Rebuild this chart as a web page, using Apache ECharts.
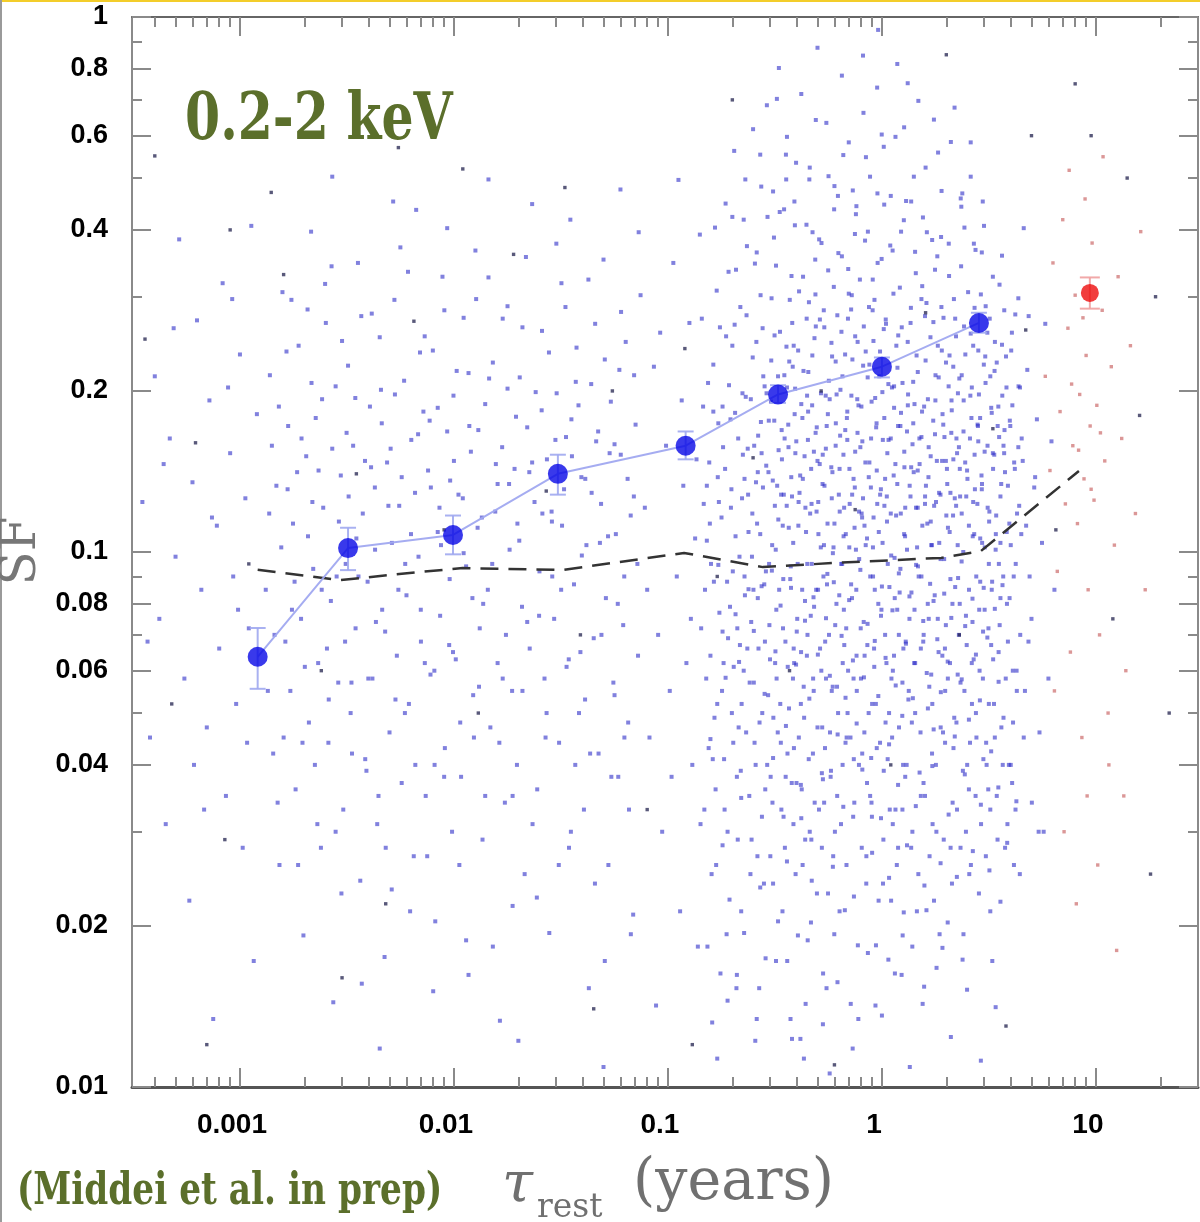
<!DOCTYPE html>
<html><head><meta charset="utf-8">
<script src="https://cdn.jsdelivr.net/npm/echarts@6.0.0/dist/echarts.min.js"></script>
<style>html,body{margin:0;padding:0;background:#fff}#c{width:1200px;height:1222px}</style>
</head><body><div id="c"></div>
<script>
// ---- axis ranges and ticks ----
const X_MIN = 0.000313, X_MAX = 30, Y_MIN = 0.01, Y_MAX = 1;
const xMajorTicks = [0.001, 0.01, 0.1, 1, 10];
const xMinorTicks = [0.0004,0.0005,0.0006,0.0007,0.0008,0.0009,0.002,0.003,0.004,0.005,0.006,0.007,0.008,0.009,0.02,0.03,0.04,0.05,0.06,0.07,0.08,0.09,0.2,0.3,0.4,0.5,0.6,0.7,0.8,0.9,2,3,4,5,6,7,8,9,20,30];
const yMajorTicks = [0.01,0.02,0.04,0.06,0.08,0.1,0.2,0.4,0.6,0.8,1];
const yMinorTicks = [0.03,0.05,0.07,0.09,0.3,0.5,0.7,0.9];

// ---- binned structure function ----
const binTau = [0.00121, 0.0032, 0.0099, 0.0306, 0.121, 0.327, 1.0, 2.84];
const binSF  = [0.0637, 0.1017, 0.1076, 0.140, 0.158, 0.197, 0.222, 0.268];
const binLo  = [0.0555, 0.0925, 0.099, 0.128, 0.149, 0.19, 0.212, 0.257];
const binHi  = [0.0721, 0.111, 0.117, 0.152, 0.168, 0.205, 0.231, 0.28];
const redTau = [9.37], redSF = [0.305], redLo = [0.285], redHi = [0.326];

// ---- dashed reference curve ----
const dashTau = [0.00121, 0.00293, 0.00694, 0.011, 0.0323, 0.119, 0.278, 0.597, 1.89, 2.9, 8.33];
const dashSF  = [0.0926, 0.0886, 0.0918, 0.0933, 0.0926, 0.0996, 0.0937, 0.0954, 0.0975, 0.1004, 0.1417];

// ---- individual pair points (tau, SF) ----
const blueDots = [
[0.00035,0.124],[0.00038,0.045],[0.0004,0.213],[0.00042,0.075],[0.00045,0.031],[0.00047,0.163],[0.0005,0.098],[0.00052,0.384],[0.00055,0.058],[0.00058,0.0223],[0.0006,0.135],[0.00063,0.271],[0.00066,0.085],[0.0007,0.047],[0.00072,0.192],[0.00075,0.0134],[0.00078,0.112],[0.0008,0.066],[0.00083,0.318],[0.00086,0.035],[0.0009,0.153],[0.00093,0.09],[0.00096,0.052],[0.001,0.234],[0.00103,0.028],[0.00106,0.126],[0.0011,0.072],[0.00113,0.407],[0.00116,0.0172],[0.0012,0.181],[0.00037,0.068],[0.00049,0.262],[0.00061,0.04],[0.00074,0.116],[0.00088,0.203],[0.00098,0.078],[0.00108,0.044],[0.00044,0.146],[0.00068,0.033],[0.00092,0.297],
[0.00132,0.085],[0.00138,0.214],[0.00143,0.042],[0.00148,0.133],[0.00153,0.026],[0.00158,0.306],[0.00163,0.068],[0.00168,0.172],
[0.00172,0.055],[0.00177,0.113],[0.00182,0.036],[0.00188,0.243],[0.00193,0.075],[0.00198,0.0192],[0.00204,0.151],[0.0021,0.048],[0.00215,0.397],[0.0022,0.093],
[0.00226,0.178],[0.00232,0.062],[0.00239,0.028],[0.00245,0.121],[0.00252,0.268],[0.00259,0.044],[0.00266,0.081],[0.00273,0.0144],[0.0028,0.204],[0.00288,0.057],[0.00296,0.139],
[0.00304,0.033],[0.00312,0.095],[0.0032,0.223],[0.00329,0.05],[0.00338,0.158],[0.00347,0.072],[0.00356,0.347],[0.00365,0.0243],[0.00375,0.118],[0.00385,0.041],[0.00395,0.088],
[0.00405,0.187],[0.00416,0.058],[0.00427,0.132],[0.00438,0.031],[0.0045,0.252],[0.00462,0.078],[0.00474,0.0175],[0.00487,0.147],[0.005,0.046],[0.00513,0.104],[0.00527,0.296],[0.00541,0.064],
[0.00555,0.122],[0.0057,0.037],[0.00585,0.209],[0.006,0.083],[0.00616,0.052],[0.00632,0.162],[0.00649,0.027],[0.00666,0.436],[0.00683,0.098],[0.00701,0.068],[0.0072,0.183],[0.00738,0.035],
[0.00757,0.142],[0.00777,0.059],[0.00797,0.238],[0.00818,0.0204],[0.0084,0.109],[0.00862,0.076],[0.00884,0.327],[0.00907,0.043],[0.0093,0.168],[0.00955,0.089],[0.0098,0.03],[0.00995,0.196],
[0.0102,0.063],[0.0105,0.128],[0.0108,0.038],[0.0111,0.274],[0.0114,0.094],[0.0117,0.0162],[0.012,0.154],[0.0123,0.054],[0.0126,0.366],[0.0129,0.111],[0.0132,0.072],
[0.0136,0.029],[0.014,0.189],[0.0144,0.085],[0.0148,0.047],[0.0152,0.226],[0.0156,0.119],[0.016,0.062],[0.0164,0.0133],[0.0168,0.157],[0.0173,0.034],[0.0178,0.288],
[0.0182,0.101],[0.0187,0.055],[0.0192,0.143],[0.0197,0.04],[0.0203,0.212],[0.0208,0.079],[0.0214,0.025],[0.022,0.171],[0.0226,0.066],[0.0232,0.447],[0.0238,0.124],
[0.0245,0.036],[0.0251,0.092],[0.0258,0.259],[0.0265,0.058],[0.0272,0.149],[0.0279,0.0194],[0.0287,0.114],[0.0294,0.075],[0.0302,0.198],[0.031,0.044],[0.0318,0.318],
[0.0327,0.131],[0.0336,0.061],[0.0345,0.028],[0.0354,0.177],[0.0364,0.087],[0.0374,0.241],[0.0384,0.05],[0.0394,0.138],[0.0405,0.033],[0.0416,0.103],[0.0427,0.0153],
[0.0438,0.206],[0.045,0.069],[0.0462,0.161],[0.0474,0.042],[0.0487,0.123],[0.05,0.352],[0.0513,0.082],[0.0527,0.026],[0.0541,0.191],[0.0556,0.057],[0.0571,0.108],
[0.0586,0.038],[0.0602,0.152],[0.0618,0.073],[0.0635,0.247],[0.0652,0.048],[0.067,0.117],[0.0688,0.021],[0.0706,0.173],[0.0725,0.064],[0.0745,0.302],
[0.00135,0.055],[0.00141,0.158],[0.0015,0.034],[0.00156,0.102],[0.00165,0.237],[0.00175,0.078],[0.00185,0.141],[0.00196,0.044],[0.00207,0.284],[0.00218,0.124],[0.0023,0.031],[0.00242,0.193],[0.00255,0.066],[0.00268,0.342],[0.00283,0.09],[0.00298,0.023],[0.00315,0.167],[0.00332,0.057],[0.0035,0.106],[0.00369,0.276],[0.0039,0.039],[0.0041,0.144],[0.00432,0.074],[0.00456,0.201],[0.0048,0.028],[0.00506,0.156],[0.00533,0.053],[0.00562,0.371],[0.00592,0.095],[0.00624,0.0213],[0.00658,0.129],[0.00694,0.236],[0.00731,0.062],[0.0077,0.176],[0.00812,0.04],[0.00856,0.121],[0.00902,0.283],[0.0095,0.067],[0.01,0.148],[0.0106,0.026],[0.0111,0.0995],[0.0117,0.216],[0.0124,0.045],[0.013,0.169],[0.0137,0.08],[0.0145,0.326],[0.0152,0.0183],[0.016,0.134],[0.0169,0.058],[0.0178,0.202],[0.0188,0.035],[0.0198,0.113],[0.0209,0.263],[0.022,0.074],[0.0232,0.147],[0.0244,0.0226],[0.0257,0.184],[0.0271,0.05],[0.0286,0.119],[0.0301,0.377],[0.0317,0.085],[0.0334,0.164],[0.0352,0.03],[0.0371,0.208],[0.039,0.065],[0.0411,0.137],[0.0433,0.042],[0.0457,0.267],[0.0481,0.104],[0.0507,0.0172],[0.0534,0.153],[0.0563,0.054],[0.0593,0.219],[0.0625,0.09],[0.0658,0.033],[0.0693,0.127],[0.073,0.396],[0.0145,0.497],[0.0052,0.452],[0.0027,0.503],[0.035,0.418],[0.06,0.476],[0.02,0.0122],[0.008,0.0151],[0.0045,0.0118],[0.05,0.0109],
[0.00137,0.118],[0.00145,0.07],[0.00152,0.187],[0.0016,0.045],[0.00167,0.131],[0.00174,0.296],[0.0018,0.088],[0.00187,0.026],[0.00194,0.163],[0.00201,0.061],[0.00208,0.107],[0.00216,0.207],[0.00224,0.04],[0.00233,0.142],[0.00241,0.085],[0.0025,0.317],[0.0026,0.053],[0.0027,0.156],[0.0028,0.03],[0.0029,0.114],[0.003,0.248],[0.0031,0.068],[0.00322,0.127],[0.00334,0.042],[0.00346,0.194],[0.00358,0.09],[0.00371,0.0156],[0.00384,0.148],[0.00398,0.058],[0.00413,0.279],[0.00428,0.101],[0.00444,0.035],[0.0046,0.174],[0.00477,0.071],[0.00494,0.122],[0.00512,0.0234],[0.0053,0.197],[0.0055,0.085],[0.0057,0.138],[0.0059,0.05],[0.0061,0.334],[0.0063,0.108],[0.0066,0.04],[0.0068,0.166],[0.007,0.078],[0.0073,0.253],[0.0075,0.027],[0.0078,0.132],[0.0081,0.06],[0.0084,0.186],[0.0087,0.103],[0.009,0.038],[0.0093,0.403],[0.0096,0.136],[0.0099,0.065],[0.0103,0.218],[0.0107,0.048],[0.011,0.126],[0.0114,0.0188],[0.0118,0.172],[0.0122,0.082],[0.0127,0.297],[0.0131,0.056],[0.0135,0.116],[0.014,0.035],[0.0146,0.211],[0.0151,0.095],[0.0157,0.146],[0.0163,0.044],[0.0169,0.273],[0.0175,0.07],[0.0181,0.134],[0.0188,0.0218],[0.0195,0.179],[0.0202,0.105],[0.0209,0.055],[0.0217,0.356],[0.0225,0.141],[0.0233,0.031],[0.0241,0.199],[0.025,0.076],[0.0259,0.118],[0.0268,0.045],[0.0278,0.236],[0.0288,0.09],[0.0298,0.162],[0.0309,0.026],[0.032,0.112],[0.0332,0.287],[0.0344,0.063],[0.0356,0.151],[0.0369,0.04],[0.0382,0.188],[0.0396,0.0985],[0.041,0.053],[0.0425,0.323],[0.044,0.129],[0.0456,0.024],[0.0472,0.168],[0.0489,0.07],[0.0507,0.229],[0.0525,0.107],[0.0544,0.038],[0.0563,0.159],[0.0583,0.08],[0.0604,0.281],[0.0626,0.045],[0.0648,0.137],[0.0671,0.0193],[0.0695,0.214],[0.072,0.095],
[0.078,0.121],[0.082,0.045],[0.086,0.222],[0.09,0.07],[0.094,0.03],[0.098,0.158],[0.102,0.055],[0.106,0.347],[0.11,0.09],[0.114,0.0213],[0.118,0.133],[0.122,0.062],[0.126,0.268],[0.13,0.04],[0.134,0.106],[0.138,0.0183],[0.08,0.085],[0.092,0.257],[0.104,0.038],[0.116,0.192],[0.128,0.075],[0.088,0.0142],[0.112,0.496],[0.136,0.149],
[0.142,0.031],[0.147,0.123],[0.151,0.058],[0.144,0.273],[0.153,0.0183],[0.149,0.085],[0.146,0.187],[0.155,0.043],[0.141,0.392],[0.152,0.105],
[0.158,0.064],[0.163,0.224],[0.167,0.036],[0.171,0.138],[0.161,0.0132],[0.169,0.308],[0.174,0.077],[0.165,0.049],[0.172,0.174],[0.159,0.095],[0.168,0.026],
[0.178,0.116],[0.183,0.041],[0.187,0.253],[0.191,0.069],[0.181,0.157],[0.194,0.0224],[0.186,0.448],[0.189,0.088],[0.179,0.055],[0.193,0.205],[0.184,0.033],
[0.198,0.131],[0.203,0.061],[0.208,0.337],[0.212,0.029],[0.201,0.092],[0.206,0.182],[0.214,0.047],[0.209,0.0153],[0.2,0.243],[0.211,0.072],[0.204,0.562],
[0.219,0.039],[0.224,0.152],[0.229,0.083],[0.233,0.277],[0.221,0.052],[0.238,0.109],[0.227,0.0194],[0.235,0.066],[0.231,0.195],[0.226,0.418],[0.24,0.035],[0.222,0.126],
[0.245,0.074],[0.249,0.231],[0.254,0.044],[0.258,0.135],[0.262,0.027],[0.247,0.098],[0.26,0.363],[0.252,0.057],[0.264,0.165],[0.256,0.0122],[0.25,0.617],
[0.27,0.108],[0.275,0.032],[0.279,0.213],[0.284,0.068],[0.288,0.145],[0.273,0.482],[0.291,0.04],[0.282,0.087],[0.277,0.262],[0.294,0.054],[0.286,0.0174],[0.272,0.175],
[0.3,0.063],[0.305,0.298],[0.31,0.024],[0.316,0.122],[0.321,0.078],[0.303,0.191],[0.326,0.046],[0.313,0.387],[0.319,0.101],[0.308,0.034],[0.329,0.155],[0.323,0.703],
[0.335,0.052],[0.34,0.169],[0.346,0.089],[0.352,0.028],[0.358,0.242],[0.338,0.128],[0.363,0.061],[0.349,0.437],[0.355,0.038],[0.367,0.111],[0.343,0.0213],[0.36,0.203],
[0.375,0.094],[0.381,0.268],[0.388,0.043],[0.394,0.153],[0.4,0.071],[0.378,0.328],[0.405,0.0192],[0.391,0.181],[0.384,0.058],[0.408,0.124],[0.397,0.534],[0.386,0.031],
[0.415,0.139],[0.422,0.036],[0.43,0.218],[0.437,0.081],[0.444,0.409],[0.419,0.065],[0.451,0.162],[0.426,0.026],[0.448,0.095],[0.456,0.293],[0.433,0.049],[0.44,0.0143],
[0.465,0.076],[0.472,0.188],[0.48,0.055],[0.488,0.352],[0.495,0.119],[0.468,0.029],[0.503,0.085],[0.484,0.251],[0.476,0.042],[0.5,0.148],[0.491,0.642],[0.508,0.033],
[0.518,0.102],[0.526,0.047],[0.535,0.283],[0.543,0.068],[0.552,0.172],[0.522,0.378],[0.56,0.023],[0.539,0.133],[0.548,0.058],[0.565,0.209],[0.531,0.0163],[0.556,0.091],
[0.578,0.039],[0.587,0.141],[0.596,0.313],[0.605,0.073],[0.614,0.197],[0.583,0.055],[0.623,0.463],[0.6,0.113],[0.592,0.027],[0.632,0.083],[0.618,0.035],[0.638,0.165],
[0.647,0.258],[0.656,0.062],[0.666,0.121],[0.676,0.044],[0.686,0.178],[0.652,0.095],[0.696,0.338],[0.671,0.0214],[0.681,0.072],[0.705,0.143],[0.66,0.552],[0.691,0.05],
[0.718,0.087],[0.728,0.229],[0.739,0.041],[0.75,0.154],[0.761,0.064],[0.723,0.302],[0.772,0.0184],[0.745,0.111],[0.756,0.428],[0.783,0.097],[0.734,0.032],[0.767,0.193],
[0.798,0.058],[0.81,0.161],[0.822,0.074],[0.834,0.382],[0.846,0.027],[0.804,0.118],[0.858,0.212],[0.828,0.046],[0.84,0.103],[0.87,0.287],[0.816,0.847],[0.852,0.037],
[0.888,0.132],[0.9,0.052],[0.913,0.248],[0.926,0.085],[0.94,0.171],[0.894,0.034],[0.953,0.468],[0.919,0.066],[0.933,0.0142],[0.967,0.109],[0.906,0.323],[0.946,0.043],[0.96,0.946],
[0.99,0.076],[1.005,0.199],[1.02,0.039],[1.035,0.137],[1.05,0.062],[0.997,0.353],[1.065,0.095],[1.012,0.024],[1.042,0.272],[1.08,0.05],[1.027,0.122],[1.072,0.0173],
[1.1,0.163],[1.116,0.045],[1.132,0.304],[1.148,0.082],[1.165,0.117],[1.108,0.058],[1.182,0.221],[1.124,0.031],[1.157,0.597],[1.2,0.07],[1.14,0.186],[1.19,0.028],
[1.22,0.093],[1.238,0.263],[1.256,0.04],[1.274,0.144],[1.292,0.068],[1.229,0.397],[1.31,0.168],[1.265,0.0212],[1.283,0.107],[1.33,0.053],[1.247,0.033],[1.32,0.752],
[1.36,0.127],[1.38,0.048],[1.4,0.208],[1.42,0.078],[1.44,0.332],[1.37,0.028],[1.46,0.102],[1.39,0.159],[1.43,0.062],[1.48,0.025],[1.41,0.503],[1.47,0.142],
[1.52,0.066],[1.54,0.183],[1.565,0.037],[1.59,0.123],[1.615,0.292],[1.53,0.09],[1.64,0.051],[1.575,0.0154],[1.6,0.228],[1.655,0.075],[1.555,0.422],[1.63,0.113],
[1.69,0.151],[1.715,0.042],[1.74,0.269],[1.765,0.083],[1.79,0.124],[1.7,0.059],[1.815,0.357],[1.752,0.0223],[1.778,0.192],[1.84,0.065],[1.725,0.031],[1.83,0.558],
[1.88,0.097],[1.905,0.238],[1.93,0.046],[1.96,0.164],[1.99,0.073],[1.89,0.388],[2.02,0.134],[1.945,0.029],[1.975,0.055],[2.05,0.204],[1.918,0.0182],[2.035,0.111],
[2.08,0.062],[2.11,0.167],[2.14,0.034],[2.17,0.297],[2.2,0.086],[2.09,0.129],[2.23,0.048],[2.155,0.222],[2.185,0.677],[2.26,0.103],[2.125,0.024],[2.245,0.153],
[2.3,0.211],[2.33,0.057],[2.36,0.118],[2.39,0.039],[2.42,0.264],[2.31,0.08],[2.45,0.147],[2.375,0.468],[2.405,0.0193],[2.49,0.067],[2.345,0.342],[2.47,0.03],
[2.55,0.112],[2.58,0.044],[2.62,0.178],[2.65,0.074],[2.69,0.377],[2.56,0.025],[2.72,0.131],[2.635,0.052],[2.67,0.243],[2.76,0.09],[2.6,0.583],[2.74,0.035],
[2.82,0.161],[2.86,0.06],[2.9,0.303],[2.94,0.104],[2.98,0.041],[2.84,0.197],[3.02,0.078],[2.92,0.139],[2.96,0.452],[3.06,0.027],[2.88,0.088],[3.04,0.232],
[3.12,0.121],[3.16,0.052],[3.21,0.213],[3.26,0.085],[3.3,0.327],[3.14,0.036],[3.35,0.152],[3.24,0.067],[3.28,0.0172],[3.4,0.101],[3.19,0.273],[3.37,0.045],
[3.5,0.187],[3.55,0.073],[3.61,0.134],[3.67,0.04],[3.73,0.283],[3.52,0.095],[3.79,0.058],[3.64,0.358],[3.7,0.158],[3.86,0.031],[3.58,0.0222],[3.83,0.109],
[3.95,0.082],[4.02,0.238],[4.1,0.048],[4.18,0.143],[4.26,0.06],[3.98,0.172],[4.34,0.298],[4.14,0.026],[4.22,0.095],[4.42,0.203],[4.06,0.037],[4.38,0.122],
[4.55,0.148],[4.66,0.055],[4.78,0.219],[4.9,0.09],[5.02,0.034],[4.6,0.403],[5.15,0.132],[4.84,0.068],[5.3,0.177],[5.45,0.046],
[5.6,0.104],[5.8,0.267],[6.0,0.058],[6.2,0.161],[5.7,0.03],[6.4,0.085],
[0.156,0.147],[0.162,0.041],[0.175,0.263],[0.18,0.071],[0.188,0.0193],[0.196,0.177],[0.202,0.044],[0.216,0.098],[0.218,0.287],[0.226,0.06],[0.236,0.156],[0.243,0.025],[0.248,0.118],[0.255,0.346],[0.263,0.082],[0.268,0.048],[0.274,0.153],[0.281,0.024],[0.289,0.198],[0.297,0.095],[0.302,0.038],[0.309,0.136],[0.315,0.254],[0.322,0.058],[0.328,0.115],[0.333,0.432],[0.339,0.033],[0.345,0.072],[0.351,0.163],[0.357,0.497],[0.362,0.042],[0.369,0.227],[0.374,0.0134],[0.38,0.127],[0.387,0.066],[0.393,0.202],[0.399,0.037],[0.404,0.095],[0.41,0.307],[0.418,0.052],[0.425,0.178],[0.432,0.0113],[0.439,0.121],[0.446,0.064],[0.453,0.217],[0.46,0.03],[0.467,0.143],[0.474,0.396],[0.482,0.079],[0.49,0.167],[0.497,0.023],[0.505,0.108],[0.513,0.272],[0.521,0.06],[0.529,0.152],[0.537,0.034],[0.546,0.196],[0.554,0.087],[0.563,0.504],[0.572,0.046],[0.581,0.246],[0.59,0.0995],[0.599,0.0193],[0.608,0.158],[0.617,0.056],[0.626,0.362],[0.635,0.119],[0.644,0.031],[0.654,0.213],[0.664,0.078],[0.674,0.169],[0.684,0.045],[0.694,0.273],[0.704,0.102],[0.715,0.0143],[0.726,0.128],[0.737,0.058],[0.748,0.393],[0.759,0.085],[0.77,0.247],[0.781,0.04],[0.793,0.157],[0.805,0.028],[0.817,0.223],[0.829,0.112],[0.842,0.547],[0.855,0.067],[0.868,0.138],[0.881,0.035],[0.895,0.191],[0.909,0.09],[0.923,0.296],[0.937,0.052],[0.951,0.123],[0.965,0.0223],[0.98,0.237],[0.995,0.078],[1.01,0.162],[1.025,0.446],[1.04,0.048],[1.056,0.114],[1.072,0.206],[1.088,0.033],[1.105,0.0985],[1.122,0.366],[1.139,0.064],[1.156,0.146],[1.174,0.026],[1.192,0.254],[1.21,0.084],[1.228,0.182],[1.247,0.057],[1.266,0.417],[1.285,0.121],[1.305,0.04],[1.325,0.197],[1.345,0.075],[1.366,0.286],[1.387,0.0183],[1.408,0.141],[1.43,0.05],[1.452,0.233],[1.474,0.094],[1.497,0.163],[1.52,0.035],[1.543,0.314],[1.567,0.07],[1.591,0.127],[1.615,0.0214],[1.64,0.193],[1.665,0.056],[1.691,0.114],[1.717,0.383],[1.743,0.081],[1.77,0.166],[1.797,0.03],[1.825,0.243],[1.853,0.104],[1.882,0.047],[1.911,0.148],[1.94,0.274],[1.97,0.066],[2.0,0.117],[2.03,0.0203],[2.06,0.328],[2.09,0.089],[2.12,0.184],[2.16,0.043],[2.19,0.126],[2.22,0.253],[2.26,0.059],[2.29,0.157],[2.33,0.028],[2.36,0.214],[2.4,0.1],[2.43,0.404],[2.47,0.076],[2.51,0.137],[2.55,0.036],[2.59,0.196],[2.63,0.062],[2.67,0.124],[2.71,0.286],[2.75,0.05],[2.8,0.173],[2.84,0.023],[2.88,0.106],[2.93,0.363],[2.97,0.071],[3.02,0.154],[3.07,0.044],[3.11,0.257],[3.16,0.095],[3.21,0.033],[3.26,0.182],[3.31,0.063],[3.36,0.218],[3.42,0.117],[3.47,0.029],[3.53,0.164],[3.58,0.082],[3.64,0.244],[3.7,0.049],[3.76,0.141],[3.82,0.203],[3.88,0.068],[3.94,0.113],[4.0,0.04],[4.07,0.188],[4.13,0.09],[4.2,0.278],[4.27,0.055],[4.34,0.157],[4.41,0.025],[4.48,0.108],
[0.143,0.072],[0.148,0.033],[0.154,0.207],[0.157,0.113],[0.16,0.025],[0.164,0.088],[0.166,0.404],[0.17,0.052],[0.173,0.124],[0.176,0.0163],[0.18,0.187],[0.182,0.062],[0.185,0.143],[0.19,0.03],[0.192,0.334],[0.195,0.079],[0.199,0.05],[0.205,0.266],[0.207,0.107],[0.21,0.038],[0.213,0.163],[0.217,0.067],[0.22,0.0213],[0.223,0.198],[0.228,0.09],[0.232,0.046],[0.234,0.373],[0.237,0.128],[0.241,0.057],[0.244,0.193],[0.246,0.029],[0.251,0.085],[0.253,0.158],[0.257,0.04],[0.259,0.247],[0.261,0.113],[0.265,0.066],[0.267,0.0153],[0.271,0.302],[0.276,0.05],[0.278,0.132],[0.283,0.204],[0.285,0.036],[0.287,0.092],[0.292,0.423],[0.295,0.141],[0.298,0.073],[0.301,0.027],[0.304,0.228],[0.307,0.103],[0.311,0.049],[0.314,0.176],[0.317,0.062],[0.32,0.343],[0.324,0.133],[0.327,0.0204],[0.331,0.085],[0.334,0.258],[0.337,0.044],[0.341,0.149],[0.344,0.112],[0.347,0.032],[0.35,0.214],[0.354,0.068],[0.356,0.553],[0.359,0.122],[0.361,0.0172],[0.365,0.173],[0.368,0.051],[0.371,0.296],[0.373,0.089],[0.377,0.138],[0.379,0.037],[0.383,0.222],[0.385,0.104],[0.389,0.062],[0.392,0.408],[0.395,0.025],[0.398,0.161],[0.402,0.075],[0.406,0.238],[0.409,0.045],[0.412,0.129],[0.416,0.0123],[0.42,0.189],[0.424,0.085],[0.428,0.327],[0.431,0.056],[0.435,0.151],[0.438,0.029],[0.442,0.109],[0.445,0.273],[0.449,0.07],[0.452,0.183],[0.455,0.041],[0.458,0.497],[0.462,0.118],[0.466,0.0203],[0.47,0.095],[0.473,0.233],[0.477,0.058],[0.481,0.154],[0.485,0.034],[0.489,0.303],[0.493,0.085],[0.496,0.171],[0.5,0.047],[0.504,0.124],[0.509,0.384],[0.514,0.066],[0.519,0.198],[0.524,0.028],[0.528,0.134],[0.533,0.09],[0.538,0.263],[0.542,0.043],[0.547,0.156],[0.551,0.0153],[0.557,0.113],[0.561,0.336],[0.566,0.07],[0.57,0.193],[0.576,0.038],[0.58,0.144],[0.585,0.232],[0.589,0.056],[0.594,0.102],[0.598,0.437],[0.603,0.03],[0.609,0.174],[0.613,0.08],[0.619,0.277],[0.624,0.05],[0.629,0.128],[0.634,0.0213],[0.64,0.201],[0.645,0.095],[0.65,0.357],[0.655,0.04],[0.661,0.152],[0.667,0.067],[0.673,0.234],[0.678,0.108],[0.683,0.026],[0.689,0.183],[0.695,0.06],[0.7,0.304],[0.707,0.123],[0.713,0.045],[0.72,0.196],[0.725,0.082],[0.731,0.474],[0.737,0.137],[0.743,0.034],[0.75,0.253],[0.756,0.101],[0.763,0.055],[0.769,0.167],[0.776,0.0134],[0.782,0.119],[0.789,0.323],[0.796,0.072],[0.802,0.187],[0.809,0.042],[0.816,0.126],[0.823,0.264],[0.83,0.064],[0.837,0.147],[0.845,0.024],[0.852,0.106],[0.86,0.397],[0.867,0.05],[0.874,0.224],[0.882,0.09],[0.89,0.163],[0.898,0.032],[0.905,0.283],[0.914,0.116],[0.921,0.061],[0.93,0.194],[0.938,0.0184],[0.946,0.142],[0.955,0.347],[0.962,0.08],[0.972,0.213],[0.98,0.044],[0.989,0.131],[0.998,0.603],[1.007,0.104],[1.016,0.029],[1.026,0.178],[1.035,0.07],[1.045,0.267],[1.054,0.127],[1.064,0.041],[1.074,0.162],[1.084,0.086],[1.094,0.374],[1.104,0.0223],[1.114,0.203],[1.125,0.06],[1.135,0.139],[1.146,0.0975],[1.157,0.033],[1.168,0.243],[1.179,0.078],[1.19,0.172],[1.202,0.047],[1.213,0.312],[1.225,0.118],[1.236,0.0162],[1.248,0.207],[1.26,0.066],[1.272,0.154],[1.285,0.038],[1.297,0.453],[1.31,0.101],[1.322,0.188],[1.335,0.055],[1.348,0.133],[1.361,0.268],[1.374,0.084],[1.388,0.03],[1.401,0.174],[1.415,0.062],[1.429,0.364],[1.443,0.121],[1.457,0.0213],[1.471,0.217],[1.485,0.09],[1.5,0.146],[1.515,0.046],[1.53,0.297],[1.545,0.112],[1.56,0.068],[1.575,0.187],[1.59,0.035],[1.606,0.133],[1.622,0.396],[1.638,0.08],[1.654,0.157],[1.67,0.027],[1.686,0.252],[1.703,0.103],[1.72,0.052],[1.737,0.176],[1.754,0.122],[1.771,0.337],[1.788,0.04],[1.806,0.148],[1.824,0.075],[1.842,0.212],[1.86,0.0193],[1.878,0.128],[1.897,0.287],[1.916,0.064],[1.935,0.173],[1.954,0.097],[1.973,0.044],[1.993,0.226],[2.013,0.143],[2.033,0.058],[2.053,0.377],[2.073,0.109],[2.094,0.028],[2.115,0.192],[2.136,0.08],[2.157,0.149],[2.178,0.049],[2.2,0.273],[2.222,0.122],[2.244,0.033],[2.266,0.198],[2.289,0.07],[2.312,0.143],[2.335,0.458],[2.358,0.096],[2.382,0.0173],[2.406,0.168],[2.43,0.055],[2.454,0.234],[2.478,0.127],[2.503,0.04],[2.528,0.306],[2.553,0.085],[2.579,0.163],[2.605,0.026],[2.631,0.203],[2.657,0.107],[2.684,0.063],[2.711,0.152],[2.738,0.367],[2.765,0.045],[2.793,0.123],[2.821,0.238],[2.849,0.078],[2.877,0.178],[2.906,0.031],[2.935,0.134],[2.964,0.058],[2.994,0.224],[3.024,0.102],[3.054,0.288],[3.085,0.04],[3.116,0.158],[3.147,0.072],[3.178,0.119],[3.21,0.0213],[3.242,0.186],[3.274,0.088],[3.307,0.143],[3.34,0.052],[3.373,0.247],[3.407,0.108],[3.441,0.035],[3.475,0.172],[3.51,0.065],[3.545,0.316],[3.58,0.127],[3.616,0.047],[3.652,0.196],[3.689,0.09],[3.726,0.153],[3.763,0.028],[3.8,0.232],[3.84,0.08],[3.88,0.133],[3.92,0.04],[3.96,0.176],[4.0,0.103],[4.05,0.257],[4.09,0.06],[4.15,0.147],[4.21,0.033],[4.28,0.118],[4.35,0.204],[4.43,0.07],[4.5,0.163],[4.6,0.045],[4.72,0.112],[4.85,0.276],[5.0,0.075],[5.2,0.138],[5.4,0.03],
[0.252,0.0712],[0.263,0.141],[0.274,0.0863],[0.283,0.0543],[0.296,0.176],[0.306,0.0923],[0.318,0.0652],[0.327,0.213],[0.336,0.0794],[0.348,0.128],[0.356,0.0473],[0.366,0.157],[0.376,0.0857],[0.387,0.243],[0.397,0.0616],[0.407,0.112],[0.418,0.0367],[0.427,0.137],[0.437,0.0744],[0.447,0.196],[0.458,0.0532],[0.469,0.123],[0.479,0.0823],[0.491,0.264],[0.502,0.0643],[0.512,0.146],[0.524,0.0386],[0.536,0.103],[0.548,0.0752],[0.559,0.181],[0.571,0.0587],[0.583,0.126],[0.596,0.0878],[0.608,0.227],[0.621,0.0456],[0.634,0.143],[0.648,0.0697],[0.662,0.107],[0.676,0.0534],[0.689,0.162],[0.703,0.0813],[0.718,0.284],[0.732,0.0627],[0.747,0.132],[0.762,0.0478],[0.777,0.188],[0.793,0.0926],[0.808,0.116],[0.824,0.0583],[0.84,0.237],[0.857,0.0734],[0.874,0.147],[0.891,0.0412],[0.908,0.102],[0.926,0.0682],[0.944,0.174],[0.962,0.0538],[0.981,0.128],[1.0,0.0862],[1.02,0.261],[1.04,0.0634],[1.06,0.153],[1.08,0.0437],[1.1,0.118],[1.12,0.0778],[1.14,0.204],[1.16,0.0563],[1.18,0.134],[1.2,0.0912],[1.22,0.172],[1.245,0.0494],[1.27,0.108],[1.295,0.0674],[1.32,0.247],[1.345,0.0826],[1.37,0.144],[1.395,0.0533],[1.42,0.189],[1.445,0.0946],[1.47,0.121],[1.5,0.0387],[1.53,0.164],[1.56,0.0743],[1.59,0.276],[1.62,0.0594],[1.65,0.138],[1.68,0.0872],[1.71,0.103],[1.745,0.0466],[1.78,0.214],[1.815,0.0687],[1.85,0.129],[1.885,0.0547],[1.92,0.181],[1.955,0.0836],[1.99,0.148],[2.03,0.0624],[2.07,0.233],[2.11,0.0753],[2.15,0.117],[2.19,0.0452],[2.23,0.163],[2.27,0.0894],[2.32,0.127],[2.36,0.0578],[2.41,0.192],[2.45,0.0727],[2.5,0.142],[2.55,0.0486],[2.6,0.256],[2.65,0.0818],[2.7,0.108],[2.75,0.0643],[2.81,0.172],[2.87,0.0528],[2.93,0.131],[2.99,0.0857],[3.05,0.207],[3.11,0.0692],[3.17,0.114],[3.24,0.0424],[3.3,0.153],[3.37,0.0783],[3.44,0.226],[3.51,0.0572],[3.58,0.104],[3.66,0.0867],[3.74,0.169],[0.215,0.0623],[0.228,0.137],[0.238,0.0852],[0.172,0.0946],[0.186,0.0582],[0.197,0.121],[0.207,0.0765],[0.163,0.183],[0.158,0.0447],[0.152,0.133],
[0.18,0.0283],[0.22,0.0347],[0.27,0.0236],[0.31,0.0412],[0.36,0.0264],[0.42,0.0318],[0.47,0.0243],[0.53,0.0376],[0.59,0.0258],[0.66,0.0334],[0.74,0.0227],[0.81,0.0392],[0.9,0.0274],[0.99,0.0318],[1.08,0.0246],[1.19,0.0367],[1.31,0.0283],[1.44,0.0335],[1.58,0.0238],[1.72,0.0398],[1.88,0.0262],[2.05,0.0323],[2.24,0.0247],[2.44,0.0384],[2.66,0.0276],[2.9,0.0337],[3.18,0.0254],[3.5,0.0363],[3.85,0.0286],[4.25,0.0342],
[0.27,0.553],[0.29,0.684],[0.31,0.472],[0.33,0.803],[0.36,0.597],[0.39,0.452],[0.42,0.718],[0.46,0.523],[0.5,0.876],[0.55,0.634],[0.6,0.483],[0.65,0.777],[0.7,0.583],[0.76,0.443],[0.82,0.662],[0.88,0.503],[0.95,0.738],[1.02,0.572],[1.1,0.463],[1.18,0.817],[1.27,0.622],[1.37,0.452],[1.48,0.697],[1.6,0.523],[1.75,0.643],[1.9,0.473],[2.1,0.584],[2.35,0.442],[2.6,0.503],[3.0,0.407],[0.23,0.497],[0.2,0.423],
[0.17,0.0113],[0.21,0.0162],[0.26,0.0134],[0.32,0.0172],[0.38,0.0123],[0.45,0.0188],[0.53,0.0131],[0.62,0.0157],[0.73,0.0118],[0.86,0.0178],[1.0,0.0136],[1.15,0.0163],[1.35,0.0109],[1.55,0.0143],[1.8,0.0167],[2.1,0.0124],[2.5,0.0152],[2.9,0.0112],[3.4,0.0141],[0.19,0.0145],[0.57,0.0106],[1.25,0.0192]
];
const darkDots = [
[0.00036,0.25],[0.00048,0.052],[0.00062,0.16],[0.00085,0.029],[0.0011,0.095],[0.0016,0.33],[0.0024,0.06],[0.0035,0.14],[0.0048,0.022],[0.0065,0.27],[0.009,0.11],[0.013,0.05],[0.019,0.36],[0.027,0.13],[0.039,0.07],[0.055,0.2],[0.08,0.033],[0.12,0.24],[0.17,0.09],[0.25,0.15],[0.37,0.06],[0.52,0.2],[0.75,0.12],[1.1,0.04],[1.6,0.28],[2.3,0.07],[3.3,0.17],[4.7,0.26],[6.5,0.11],[9.5,0.6],[12,0.075],[16,0.18],[19,0.3],[22,0.05],[0.0004,0.55],[0.0007,0.012],[0.0014,0.47],[0.003,0.016],[0.011,0.52],[0.045,0.014],[0.2,0.7],[0.6,0.011],[2.0,0.85],[5.0,0.6],[8,0.75],[14,0.5],[18,0.025],[0.0009,0.4],[0.0055,0.57],[0.033,0.48],[0.13,0.012],[3.8,0.013]
];
const redDots = [
[5.8,0.213],[6.1,0.142],[6.3,0.347],[6.6,0.092],[6.8,0.183],[7.0,0.418],[7.2,0.123],[7.4,0.262],[7.6,0.065],[7.8,0.158],[8.0,0.302],[8.2,0.113],[8.4,0.197],[8.6,0.045],[8.8,0.137],[9.0,0.233],[9.2,0.085],[9.4,0.172],[9.6,0.378],[9.8,0.125],[10.1,0.188],[10.4,0.07],[10.7,0.283],[11.0,0.148],[11.4,0.05],[11.8,0.222],[12.2,0.103],[12.7,0.327],[13.2,0.163],[13.8,0.06],[14.5,0.243],[15.3,0.118],[16.2,0.397],[17.0,0.085],[6.4,0.055],[7.1,0.03],[8.1,0.022],[9.1,0.035],[10.2,0.026],[11.5,0.04],[12.5,0.018],[8.9,0.457],[7.5,0.517],[10.8,0.548],[13.5,0.035],[9.5,0.131],[8.3,0.155],[7.7,0.206],[10.5,0.167],[8.7,0.274]
];

// ---- build chart ----
const L = Math.log10;
const LX0 = L(X_MIN), LX1 = L(X_MAX), LY0 = L(Y_MIN), LY1 = L(Y_MAX);
const fmt = v => String(parseFloat(Math.pow(10, v).toPrecision(2)));
const G = {left: 132, right: 2, top: 17, bottom: 135};
const grids = [0,1,2,3,4].map(() => Object.assign({}, G));
const labelFont = {fontFamily: 'Liberation Sans, Arial, sans-serif', fontWeight: 'bold', color: '#000'};
function vAxis(grid, lo, hi, pos, ticks, len, line, label) {
  return {
    gridIndex: grid, type: 'value', min: lo, max: hi, position: pos,
    axisLine: line ? {show: true, onZero: false, lineStyle: line} : {show: false, onZero: false},
    axisTick: {show: true, inside: true, length: len, customValues: ticks.map(L), lineStyle: {color: '#8a8a8a', width: 2}},
    axisLabel: label ? Object.assign({show: true, customValues: ticks.map(L), formatter: fmt}, labelFont, label) : {show: false},
    splitLine: {show: false}
  };
}
const xAxes = [
  {gridIndex: 0, type: 'log', min: X_MIN, max: X_MAX, show: false},
  vAxis(1, LX0, LX1, 'bottom', xMajorTicks, 19, {color: '#555', width: 3}, {fontSize: 28, margin: 24, padding: [0, 16, 0, 0]}),
  vAxis(2, LX0, LX1, 'bottom', xMinorTicks, 10, null, null),
  vAxis(3, LX0, LX1, 'top', xMajorTicks, 19, {color: '#666', width: 2}, null),
  vAxis(4, LX0, LX1, 'top', xMinorTicks, 10, null, null)
];
const yAxes = [
  {gridIndex: 0, type: 'log', min: Y_MIN, max: Y_MAX, show: false},
  vAxis(1, LY0, LY1, 'left', yMajorTicks, 19, {color: '#8a8a8a', width: 2}, {fontSize: 27, margin: 24}),
  vAxis(2, LY0, LY1, 'left', yMinorTicks, 10, null, null),
  vAxis(3, LY0, LY1, 'right', yMajorTicks, 19, {color: '#8a8a8a', width: 2}, null),
  vAxis(4, LY0, LY1, 'right', yMinorTicks, 10, null, null)
];
function errItem(color, cap) {
  return function (params, api) {
    const x = api.value(0), lo = api.value(1), hi = api.value(2);
    const a = api.coord([x, lo]), b = api.coord([x, hi]);
    const st = {stroke: color, lineWidth: 2};
    return {type: 'group', children: [
      {type: 'line', shape: {x1: a[0], y1: a[1], x2: b[0], y2: b[1]}, style: st},
      {type: 'line', shape: {x1: a[0] - cap, y1: a[1], x2: a[0] + cap, y2: a[1]}, style: st},
      {type: 'line', shape: {x1: b[0] - cap, y1: b[1], x2: b[0] + cap, y2: b[1]}, style: st}
    ]};
  };
}
const zip2 = (a, b) => a.map((v, i) => [v, b[i]]);
const zip3 = (a, b, c) => a.map((v, i) => [v, b[i], c[i]]);
const serif = 'DejaVu Serif, Liberation Serif, serif';
const green = '#5b6f2b';
const T = (o) => Object.assign({align: 'left', verticalAlign: 'middle', textAlign: 'left', textVerticalAlign: 'middle'}, o);
const option = {
  animation: false,
  backgroundColor: '#fff',
  grid: grids,
  xAxis: xAxes,
  yAxis: yAxes,
  series: [
    {type: 'scatter', data: blueDots, symbol: 'rect', symbolSize: 4, itemStyle: {color: 'rgba(45,45,200,0.75)'}, silent: true, z: 1},
    {type: 'scatter', data: darkDots, symbol: 'rect', symbolSize: 3.4, itemStyle: {color: 'rgba(25,25,70,0.9)'}, silent: true, z: 1},
    {type: 'scatter', data: redDots, symbol: 'rect', symbolSize: 3.4, itemStyle: {color: 'rgba(190,70,70,0.7)'}, silent: true, z: 1},
    {type: 'line', data: zip2(dashTau, dashSF), symbol: 'none', smooth: false, lineStyle: {color: '#333', width: 2.5, type: [18, 10]}, z: 3},
    {type: 'custom', data: zip3(binTau, binLo, binHi), encode: {x: 0, y: [1, 2]}, renderItem: errItem('rgba(160,168,240,0.9)', 8), z: 4},
    {type: 'line', data: zip2(binTau, binSF), symbol: 'none', lineStyle: {color: 'rgba(160,168,240,0.95)', width: 2}, z: 4},
    {type: 'scatter', data: zip2(binTau, binSF), symbol: 'circle', symbolSize: 20, itemStyle: {color: '#0808e6'}, z: 5},
    {type: 'custom', data: zip3(redTau, redLo, redHi), encode: {x: 0, y: [1, 2]}, renderItem: errItem('rgba(240,160,160,0.9)', 10), z: 4},
    {type: 'scatter', data: zip2(redTau, redSF), symbol: 'circle', symbolSize: 18, itemStyle: {color: '#ee0c0c'}, z: 5}
  ],
  graphic: [
    {type: 'rect', shape: {x: 0, y: 0, width: 1200, height: 2}, style: {fill: '#f3cd2a'}, z: 10},
    {type: 'rect', shape: {x: 0, y: 0, width: 2, height: 1222}, style: {fill: '#9a9a9a'}, z: 10},
    {type: 'text', x: 185, y: 122, scaleX: 0.765, style: T({text: '0.2-2 keV', fontFamily: serif, fontWeight: 'bold', fontSize: 66, fill: green}), z: 10},
    {type: 'text', x: 17, y: 1192, scaleX: 0.763, style: T({text: '(Middei et al. in prep)', fontFamily: serif, fontWeight: 'bold', fontSize: 45, fill: green}), z: 10},
    {type: 'text', x: 502, y: 1186, style: T({text: 'τ', fontFamily: serif, fontStyle: 'italic', fontSize: 56, fill: '#707070'}), z: 10},
    {type: 'text', x: 537, y: 1208, style: T({text: 'rest', fontFamily: serif, fontSize: 33, fill: '#707070'}), z: 10},
    {type: 'text', x: 633, y: 1184, style: T({text: '(years)', fontFamily: serif, fontSize: 57, fill: '#707070'}), z: 10},
    {type: 'text', x: 22, y: 551, rotation: Math.PI / 2, style: {text: 'SF', fontFamily: serif, fontSize: 50, fill: '#777', align: 'center', verticalAlign: 'middle', textAlign: 'center', textVerticalAlign: 'middle'}, z: 10}
  ]
};
const chart = echarts.init(document.getElementById('c'), null, {renderer: 'canvas'});
chart.setOption(option);
</script></body></html>
